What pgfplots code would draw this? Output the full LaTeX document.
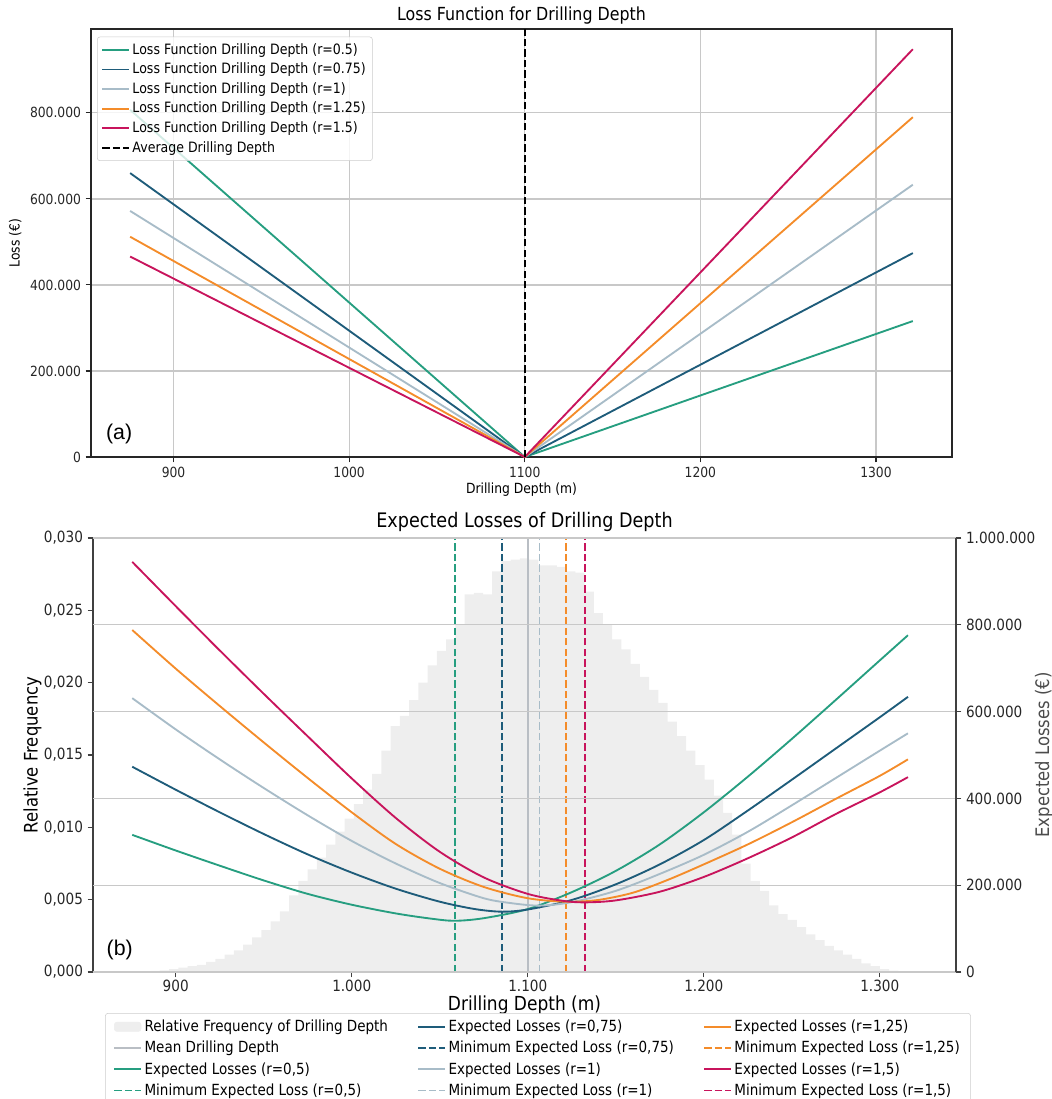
\documentclass[border=0pt]{standalone}
\usepackage{fontspec}
\setmainfont{DejaVu Sans}[FakeStretch=0.88]
\newfontfamily\labfont{Liberation Sans}
\usepackage{pgfplots}
\pgfplotsset{compat=1.18}
\definecolor{cgreen}{RGB}{38,158,128}
\definecolor{cblue}{RGB}{30,92,122}
\definecolor{cgrey}{RGB}{168,188,200}
\definecolor{corange}{RGB}{244,140,42}
\definecolor{cmag}{RGB}{200,20,92}
\definecolor{histfill}{RGB}{238,238,238}
\definecolor{gridc}{RGB}{200,200,200}
\definecolor{meanc}{RGB}{185,190,196}
\pgfplotsset{every axis title shift=0pt}
\begin{document}
\begin{tikzpicture}
\useasboundingbox (0pt,0pt) rectangle (789pt,-824.25pt);
% ---------------- (a) ----------------
\begin{axis}[
  at={(68.25pt,-342.75pt)}, anchor=south west,
  width=645.75pt, height=321pt, scale only axis,
  xmin=853.0, xmax=1343.3, ymin=0, ymax=995000,
  axis line style={black!85, line width=0.8pt},
  xtick={900,1000,1100,1200,1300},
  ytick={0,200000,400000,600000,800000},
  tick align=outside, xtick pos=bottom, ytick pos=left,
  major tick length=4pt, tick style={black!85, line width=0.8pt},
  grid=major, major grid style={gridc, line width=0.9pt},
  scaled ticks=false,
  /pgf/number format/assume math mode=true,
  xticklabel style={/pgf/number format/.cd, fixed, 1000 sep={}},
  yticklabel style={/pgf/number format/.cd, fixed, 1000 sep={.}},
  ticklabel style={font=\fontsize{10.5}{12}\selectfont, text=black!85},
  title={Loss Function for Drilling Depth},
  title style={at={(axis description cs:0.5,1.0304)}, anchor=center, font=\fontsize{13.5}{15}\selectfont},
  xlabel={Drilling Depth (m)},
  xlabel style={at={(axis description cs:0.5,-0.077)}, anchor=center, font=\fontsize{10.5}{12}\selectfont},
  ylabel={Loss (€)},
  ylabel style={at={(axis description cs:-0.088,0.5)}, anchor=center, font=\fontsize{10.5}{12}\selectfont},
  legend cell align=left,
  legend image code/.code={\draw[#1] (0pt,0pt) -- (20pt,0pt);},
  legend style={at={(0.007,0.982)}, anchor=north west,
    font=\fontsize{10.7}{12}\selectfont,
    draw=black!20, fill=white, fill opacity=0.8, text opacity=1, draw opacity=1,
    rounded corners=2pt, row sep=1pt, inner xsep=3pt, inner ysep=3pt},
]
\addplot[cgreen, line width=1.4pt] coordinates {(875.3,807000) (1100,0) (1321,316000)};
\addlegendentry{Loss Function Drilling Depth (r=0.5)}
\addplot[cblue, line width=1.4pt] coordinates {(875.3,660000) (1100,0) (1321,474000)};
\addlegendentry{Loss Function Drilling Depth (r=0.75)}
\addplot[cgrey, line width=1.4pt] coordinates {(875.3,572000) (1100,0) (1321,633000)};
\addlegendentry{Loss Function Drilling Depth (r=1)}
\addplot[corange, line width=1.4pt] coordinates {(875.3,512000) (1100,0) (1321,790000)};
\addlegendentry{Loss Function Drilling Depth (r=1.25)}
\addplot[cmag, line width=1.4pt] coordinates {(875.3,466000) (1100,0) (1321,948000)};
\addlegendentry{Loss Function Drilling Depth (r=1.5)}
\addplot[black, line width=1.4pt, dash pattern=on 5.5pt off 2.4pt] coordinates {(1100,0) (1100,995000)};
\addlegendentry{Average Drilling Depth}
\node[font=\labfont\fontsize{16}{18}\selectfont] at (axis cs:869,53000) {(a)};
\end{axis}
% ---------------- (b) left axis ----------------
\begin{axis}[
  at={(69.75pt,-729pt)}, anchor=south west,
  width=647.25pt, height=325.5pt, scale only axis,
  xmin=853.0, xmax=1343.3, ymin=0, ymax=0.030,
  axis line style={black!75, line width=0.8pt},
  xtick={900,1000,1100,1200,1300},
  ytick={0,0.005,0.010,0.015,0.020,0.025,0.030},
  tick align=outside, xtick pos=bottom, ytick pos=left,
  major tick length=4pt, tick style={black!75, line width=0.8pt},
  scaled ticks=false,
  /pgf/number format/assume math mode=true,
  xticklabel style={yshift=1.5pt, /pgf/number format/.cd, fixed, 1000 sep={.}},
  yticklabel style={/pgf/number format/.cd, fixed, fixed zerofill, precision=3, use comma},
  ticklabel style={font=\fontsize{11.6}{13}\selectfont, text=black!85},
  title={Expected Losses of Drilling Depth},
  title style={at={(axis description cs:0.5,1.037)}, anchor=center, font=\fontsize{15}{17}\selectfont},
  xlabel={Drilling Depth (m)},
  xlabel style={at={(axis description cs:0.5,-0.0755)}, anchor=center, font=\fontsize{14.5}{16}\selectfont},
  ylabel={Relative Frequency},
  ylabel style={at={(axis description cs:-0.0701,0.5)}, anchor=center, font=\fontsize{14}{16}\selectfont},
]
\addplot[const plot, fill=histfill, draw=none, forget plot] coordinates {
(875.30,0.00003) (880.54,0.00005) (885.79,0.00008) (891.03,0.00012) (896.28,0.0002)
(901.52,0.0003) (906.76,0.0004) (912.01,0.0005) (917.25,0.0007) (922.50,0.0009)
(927.74,0.0012) (932.98,0.0015) (938.23,0.0019) (943.47,0.0024) (948.72,0.0029)
(953.96,0.0035) (959.20,0.0042) (964.45,0.0053) (969.69,0.0063) (974.94,0.0071)
(980.18,0.0079) (985.42,0.0088) (990.67,0.0097) (995.91,0.0106) (1001.16,0.0116)
(1006.40,0.0126) (1011.64,0.0137) (1016.89,0.0153) (1022.13,0.0170) (1027.38,0.0177)
(1032.62,0.0188) (1037.86,0.0200) (1043.11,0.0212) (1048.35,0.0222) (1053.60,0.0230)
(1058.84,0.0240) (1064.08,0.0261) (1069.33,0.0262) (1074.57,0.0261) (1079.82,0.0277)
(1085.06,0.0284) (1090.30,0.0285) (1095.55,0.0286) (1100.79,0.0285) (1106.04,0.0281)
(1111.28,0.0281) (1116.52,0.0280) (1121.77,0.0277) (1127.01,0.0276) (1132.26,0.0263)
(1137.50,0.0248) (1142.74,0.0240) (1147.99,0.0230) (1153.23,0.0223) (1158.48,0.0213)
(1163.72,0.0204) (1168.96,0.0195) (1174.21,0.0186) (1179.45,0.0173) (1184.70,0.0163)
(1189.94,0.0153) (1195.18,0.0143) (1200.43,0.0133) (1205.67,0.0122) (1210.92,0.0110)
(1216.16,0.0095) (1221.40,0.0075) (1226.65,0.0063) (1231.89,0.0056) (1237.14,0.0046)
(1242.38,0.0040) (1247.62,0.0036) (1252.87,0.0031) (1258.11,0.0026) (1263.36,0.0022)
(1268.60,0.0018) (1273.84,0.0015) (1279.09,0.0012) (1284.33,0.0009) (1289.58,0.0006)
(1294.82,0.0004) (1300.06,0.0002) (1305.31,0.0001) (1310.55,0.00006) (1315.80,0.00003)
(1321.04,0.00003)} \closedcycle;
\addplot[meanc, line width=1.2pt, forget plot] coordinates {(1100,0) (1100,0.030)};
\addplot[cgreen, line width=1.3pt, dash pattern=on 5.5pt off 2.4pt, forget plot] coordinates {(1058.5,0) (1058.5,0.030)};
\addplot[cblue, line width=1.3pt, dash pattern=on 5.5pt off 2.4pt, forget plot] coordinates {(1085.3,0) (1085.3,0.030)};
\addplot[cgrey, line width=1.3pt, dash pattern=on 5.5pt off 2.4pt, forget plot] coordinates {(1106.6,0) (1106.6,0.030)};
\addplot[corange, line width=1.3pt, dash pattern=on 5.5pt off 2.4pt, forget plot] coordinates {(1121.9,0) (1121.9,0.030)};
\addplot[cmag, line width=1.3pt, dash pattern=on 5.5pt off 2.4pt, forget plot] coordinates {(1132.6,0) (1132.6,0.030)};
\node[font=\labfont\fontsize{16}{18}\selectfont] at (axis cs:868.2,0.00152) {(b)};
\end{axis}
% ---------------- (b) right axis ----------------
\begin{axis}[
  at={(69.75pt,-729pt)}, anchor=south west,
  width=647.25pt, height=325.5pt, scale only axis,
  xmin=853.0, xmax=1343.3, ymin=0, ymax=1000000,
  axis x line=none, axis y line*=right,
  axis line style={black!75, line width=0.8pt},
  ytick={0,200000,400000,600000,800000,1000000},
  tick align=outside, major tick length=4pt, tick style={black!75, line width=0.8pt},
  ymajorgrids, major grid style={gridc, line width=0.9pt},
  scaled ticks=false,
  /pgf/number format/assume math mode=true,
  yticklabel style={/pgf/number format/.cd, fixed, 1000 sep={.}},
  ticklabel style={font=\fontsize{11.6}{13}\selectfont, text=black!85},
  ylabel={Expected Losses (€)},
  ylabel style={at={(axis description cs:1.102,0.5)}, anchor=center, font=\fontsize{14}{16}\selectfont, text=black!70},
  legend columns=3,
  legend cell align=left,
  legend image code/.code={\draw[#1] (0pt,0pt) -- (20pt,0pt);},
  legend style={at={(0.5156,-0.0945)}, anchor=north,
    font=\fontsize{11.5}{13}\selectfont,
    draw=black!20, fill=white, rounded corners=2pt,
    row sep=1.7pt, inner xsep=6pt, inner ysep=3pt,
    /tikz/every even column/.append style={column sep=20pt}},
]
\addplot[cgreen, line width=1.4pt, smooth, forget plot] coordinates {
(875.3,316000) (900,280000) (925,245000) (950,211000) (975,180000) (1000,155000)
(1025,135000) (1045,123000) (1058.5,118000) (1075,124000) (1100,145000) (1125,184000)
(1150,233000) (1175,294000) (1200,368000) (1225,450000) (1250,537000) (1275,627000)
(1300,718000) (1316,776000)};
\addplot[cblue, line width=1.4pt, smooth, forget plot] coordinates {
(875.3,473000) (900,420000) (925,368000) (950,318000) (975,271000) (1000,229000)
(1025,192000) (1050,162000) (1070,145000) (1085.3,139000) (1100,144000) (1125,166000)
(1150,202000) (1175,248000) (1200,304000) (1225,372000) (1250,443000) (1275,515000)
(1300,587000) (1316,634000)};
\addplot[cgrey, line width=1.4pt, smooth, forget plot] coordinates {
(875.3,631000) (900,559000) (925,490000) (950,424000) (975,361000) (1000,302000)
(1025,250000) (1050,205000) (1075,170000) (1090,159000) (1106.6,153000) (1125,161000)
(1150,187000) (1175,226000) (1200,270000) (1225,323000) (1250,384000) (1275,447000)
(1300,510000) (1316,550000)};
\addplot[corange, line width=1.4pt, smooth, forget plot] coordinates {
(875.3,788000) (900,699000) (925,613000) (950,529000) (975,447000) (1000,368000)
(1025,295000) (1050,238000) (1075,196000) (1100,170000) (1121.9,162000) (1140,166000)
(1160,183000) (1180,213000) (1200,248000) (1225,294000) (1250,345000) (1275,399000)
(1300,452000) (1316,490000)};
\addplot[cmag, line width=1.4pt, smooth, forget plot] coordinates {
(875.3,945000) (900,843000) (925,741000) (950,641000) (975,543000) (1000,446000)
(1025,355000) (1050,277000) (1075,218000) (1100,180000) (1120,164000) (1132.6,160500)
(1150,165000) (1175,185000) (1200,219000) (1225,262000) (1250,310000) (1275,364000)
(1300,414000) (1316,449000)};
% legend, row by row
\addlegendimage{legend image code/.code={\fill[histfill] (0pt,-3.5pt) rectangle (20pt,3.5pt);}}
\addlegendentry{Relative Frequency of Drilling Depth}
\addlegendimage{cblue, line width=1.4pt}
\addlegendentry{Expected Losses (r=0,75)}
\addlegendimage{corange, line width=1.4pt}
\addlegendentry{Expected Losses (r=1,25)}
\addlegendimage{meanc, line width=1.2pt}
\addlegendentry{Mean Drilling Depth}
\addlegendimage{cblue, line width=1.3pt, dash pattern=on 5.5pt off 2.4pt}
\addlegendentry{Minimum Expected Loss (r=0,75)}
\addlegendimage{corange, line width=1.3pt, dash pattern=on 5.5pt off 2.4pt}
\addlegendentry{Minimum Expected Loss (r=1,25)}
\addlegendimage{cgreen, line width=1.4pt}
\addlegendentry{Expected Losses (r=0,5)}
\addlegendimage{cgrey, line width=1.4pt}
\addlegendentry{Expected Losses (r=1)}
\addlegendimage{cmag, line width=1.4pt}
\addlegendentry{Expected Losses (r=1,5)}
\addlegendimage{cgreen, line width=1.3pt, dash pattern=on 5.5pt off 2.4pt}
\addlegendentry{Minimum Expected Loss (r=0,5)}
\addlegendimage{cgrey, line width=1.3pt, dash pattern=on 5.5pt off 2.4pt}
\addlegendentry{Minimum Expected Loss (r=1)}
\addlegendimage{cmag, line width=1.3pt, dash pattern=on 5.5pt off 2.4pt}
\addlegendentry{Minimum Expected Loss (r=1,5)}
\end{axis}
\end{tikzpicture}
\end{document}
